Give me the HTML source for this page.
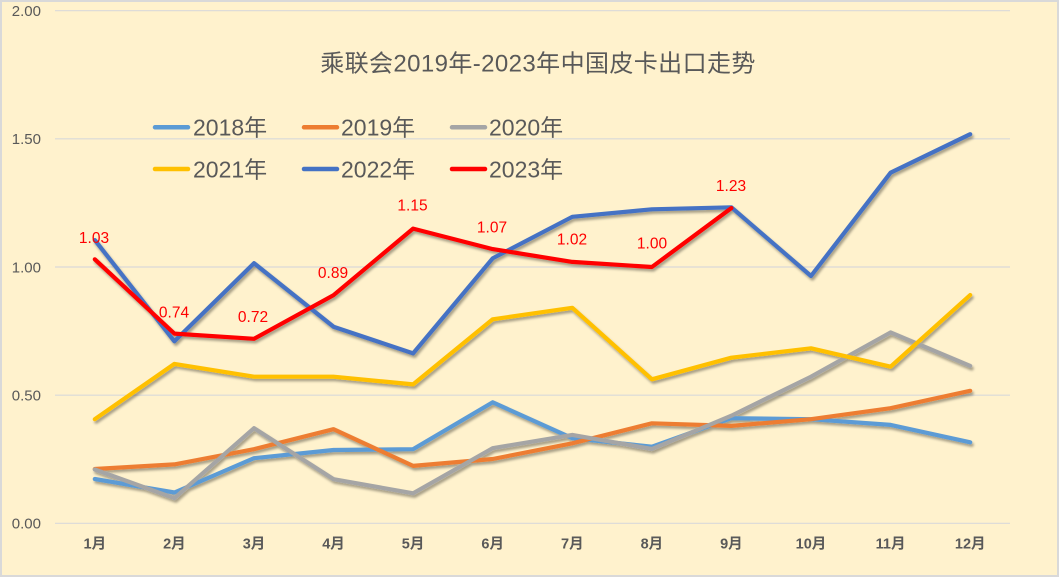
<!DOCTYPE html>
<html><head><meta charset="utf-8"><style>
html,body{margin:0;padding:0;background:#fff;}
svg{display:block;}
text{font-family:"Liberation Sans","Noto Sans CJK SC",sans-serif;}
</style></head><body>
<svg width="1061" height="579" viewBox="0 0 1061 579" xmlns="http://www.w3.org/2000/svg">
<defs>
<filter id="sh" x="-10%" y="-10%" width="120%" height="130%">
<feDropShadow dx="1.5" dy="2.5" stdDeviation="1.4" flood-color="#000" flood-opacity="0.35"/>
</filter>
</defs>
<rect x="1" y="1" width="1057" height="575" fill="#FFF2CD" stroke="#D9D9D9" stroke-width="2"/>
<g stroke="#D9D9D9" stroke-width="1.2">
<line x1="55" y1="10.7" x2="1010" y2="10.7"/>
<line x1="55" y1="138.8" x2="1010" y2="138.8"/>
<line x1="55" y1="267" x2="1010" y2="267"/>
<line x1="55" y1="395.2" x2="1010" y2="395.2"/>
<line x1="55" y1="523.3" x2="1010" y2="523.3"/>
</g>
<g fill="#595959" font-size="15" text-anchor="end">
<text x="41" y="16">2.00</text>
<text x="41" y="144">1.50</text>
<text x="41" y="272.3">1.00</text>
<text x="41" y="400.5">0.50</text>
<text x="41" y="528.6">0.00</text>
</g>
<g fill="#595959" font-size="14.5" font-weight="bold" text-anchor="middle">
<text x="94.8" y="548.5">1月</text>
<text x="174.4" y="548.5">2月</text>
<text x="254" y="548.5">3月</text>
<text x="333.5" y="548.5">4月</text>
<text x="413.1" y="548.5">5月</text>
<text x="492.7" y="548.5">6月</text>
<text x="572.3" y="548.5">7月</text>
<text x="651.9" y="548.5">8月</text>
<text x="731.4" y="548.5">9月</text>
<text x="811" y="548.5">10月</text>
<text x="890.6" y="548.5">11月</text>
<text x="970.2" y="548.5">12月</text>
</g>
<text x="538" y="71.5" font-size="24" fill="#595959" text-anchor="middle" letter-spacing="0.4">乘联会2019年-2023年中国皮卡出口走势</text>
<g stroke-width="4.5" stroke-linecap="round">
<line x1="155" y1="127.3" x2="188" y2="127.3" stroke="#5B9BD5"/>
<line x1="304" y1="127.3" x2="337" y2="127.3" stroke="#ED7D31"/>
<line x1="452" y1="127.3" x2="485" y2="127.3" stroke="#A5A5A5"/>
<line x1="155" y1="169" x2="188" y2="169" stroke="#FFC000"/>
<line x1="304" y1="169" x2="337" y2="169" stroke="#4472C4"/>
<line x1="452" y1="169" x2="485" y2="169" stroke="#FF0000"/>
</g>
<g fill="#595959" font-size="23">
<text x="193" y="135.5">2018年</text>
<text x="341" y="135.5">2019年</text>
<text x="489" y="135.5">2020年</text>
<text x="193" y="177.3">2021年</text>
<text x="341" y="177.3">2022年</text>
<text x="489" y="177.3">2023年</text>
</g>
<g fill="none" stroke-width="4.2" stroke-linejoin="round" stroke-linecap="round" filter="url(#sh)">
<polyline stroke="#5B9BD5" points="94.8,479 174.4,492.5 254,458.2 333.5,450 413.1,449.2 492.7,402.3 572.3,438.2 651.9,446.7 731.4,418.2 811,419.2 890.6,424.9 970.2,442.3"/>
<polyline stroke="#ED7D31" points="94.8,469 174.4,464.4 254,449.2 333.5,429.2 413.1,465.9 492.7,459 572.3,443.3 651.9,423.3 731.4,425.9 811,419.2 890.6,408.2 970.2,390.8"/>
<polyline stroke="#A5A5A5" points="94.8,469.5 174.4,498.2 254,428.2 333.5,479.2 413.1,493.3 492.7,448.2 572.3,434.9 651.9,449 731.4,415.7 811,376.7 890.6,332.4 970.2,365.9"/>
<polyline stroke="#FFC000" points="94.8,419.2 174.4,363.9 254,376.7 333.5,376.7 413.1,384.4 492.7,319.3 572.3,307.8 651.9,379.3 731.4,357.7 811,348.3 890.6,366.7 970.2,295"/>
<polyline stroke="#4472C4" points="94.8,240.1 174.4,341.3 254,263.2 333.5,326.7 413.1,353.4 492.7,258.3 572.3,216.8 651.9,209.3 731.4,207.3 811,276 890.6,172.7 970.2,134.2"/>
<polyline stroke="#FF0000" points="94.8,259.3 174.4,333.6 254,338.8 333.5,295.2 413.1,228.6 492.7,249.1 572.3,261.9 651.9,267 731.4,208.1"/>
</g>
<g fill="#FF0000" font-size="15.5" text-anchor="middle">
<text x="94" y="243">1.03</text>
<text x="174" y="317.5">0.74</text>
<text x="253" y="322">0.72</text>
<text x="333" y="278">0.89</text>
<text x="412.5" y="210.5">1.15</text>
<text x="492" y="232.5">1.07</text>
<text x="572" y="244.5">1.02</text>
<text x="652" y="248.5">1.00</text>
<text x="731" y="191">1.23</text>
</g>
</svg>
</body></html>
